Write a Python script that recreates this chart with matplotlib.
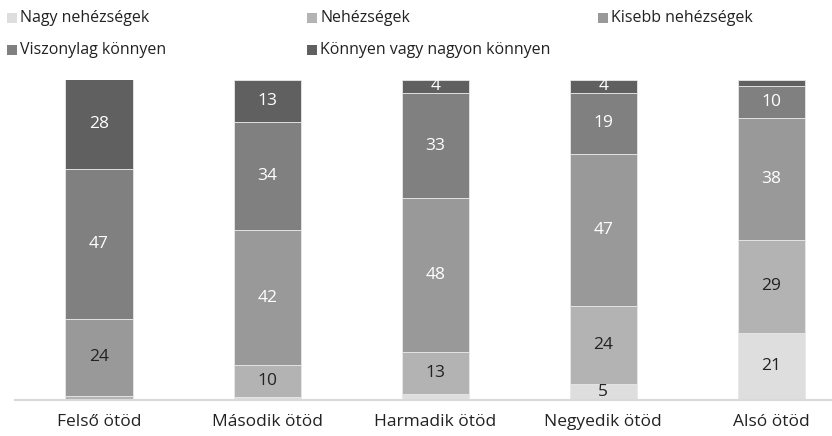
import matplotlib.pyplot as plt
import matplotlib.patches as mpatches
import numpy as np

plt.rcParams['font.family'] = ['Open Sans', 'DejaVu Sans']

categories = ['Felső ötöd', 'Második ötöd', 'Harmadik ötöd', 'Negyedik ötöd', 'Alsó ötöd']
series_names = ['Nagy nehézségek', 'Nehézségek', 'Kisebb nehézségek',
                'Viszonylag könnyen', 'Könnyen vagy nagyon könnyen']

nagy = [0.3, 1, 2, 5, 21]
nehez = [1, 10, 13, 24.5, 29]
kisebb = [24, 42, 48, 47.5, 38]
viszonylag = [47, 34, 33, 19, 10]
konnyen = [28, 13, 4, 4, 2]

# labels shown on the chart (None = no label)
lab_nagy = [None, None, None, 5, 21]
lab_nehez = [None, 10, 13, 24, 29]
lab_kisebb = [24, 42, 48, 47, 38]
lab_visz = [47, 34, 33, 19, 10]
lab_konny = [28, 13, 4, 4, None]

colors = ['#dedede', '#b3b3b3', '#999999', '#808080', '#606060']
dark, light = '#222222', 'white'
# label colour per series, per bar
text_colors = [[dark] * 5, [dark] * 5, [dark, light, light, light, light],
               [light] * 5, [light] * 5]

fig = plt.figure(figsize=(8.32, 4.36), dpi=100)
ax = fig.add_axes([15 / 832, 36 / 436, 817 / 832, 320 / 436])

x = np.arange(len(categories))
bottom = np.zeros(len(categories))
all_vals = [nagy, nehez, kisebb, viszonylag, konnyen]
all_labs = [lab_nagy, lab_nehez, lab_kisebb, lab_visz, lab_konny]
for vals, labs, col, tcs in zip(all_vals, all_labs, colors, text_colors):
    vals = np.array(vals, dtype=float)
    ax.bar(x, vals, 0.4, bottom=bottom, color=col, edgecolor='#e8e8e8', linewidth=0.6)
    for xi, b, v, lab, tc in zip(x, bottom, vals, labs, tcs):
        if lab is not None:
            ax.text(xi, b + v / 2, str(lab), ha='center', va='center',
                    fontsize=12.5, color=tc)
    bottom += vals

ax.set_xlim(-0.5, 4.36)
ax.set_ylim(0, 100)
ax.set_yticks([])
ax.set_xticks(x)
ax.set_xticklabels(categories, fontsize=12.5, color='#222222')
ax.tick_params(axis='x', length=0, pad=10)
for s in ['top', 'right', 'left']:
    ax.spines[s].set_visible(False)
ax.spines['bottom'].set_color('#d9d9d9')
ax.spines['bottom'].set_linewidth(1.5)

# legend laid out like the original: two rows, fixed columns
leg_pos = [(7, 18), (307, 18), (598, 18), (7, 50), (307, 50)]
for (px, py), name, col in zip(leg_pos, series_names, colors):
    fig.add_artist(mpatches.Rectangle((px / 832, (436 - py - 5) / 436), 10 / 832, 10 / 436,
                                      transform=fig.transFigure, facecolor=col,
                                      edgecolor='none'))
    fig.text((px + 13) / 832, (436 - py) / 436, name, fontsize=11.5,
             va='center', ha='left', color='#222222')

fig.savefig('out.png', dpi=100)
